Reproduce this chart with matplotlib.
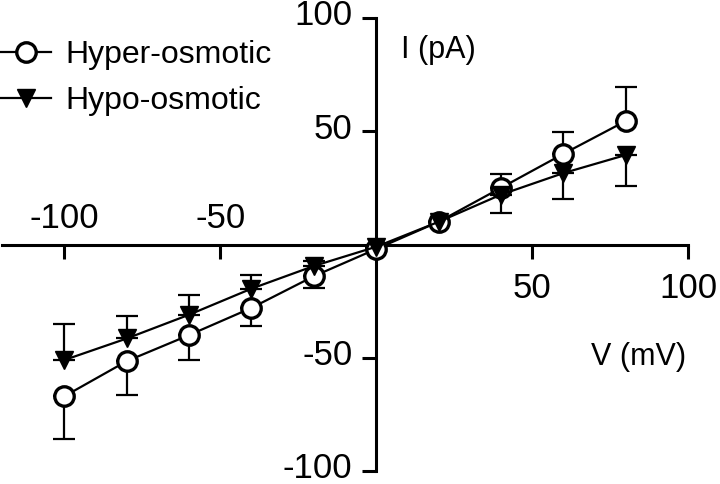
import matplotlib.pyplot as plt
import matplotlib.transforms as mtransforms

plt.rcParams['font.family'] = ['Liberation Sans', 'DejaVu Sans']

V = [-100, -80, -60, -40, -20, 0, 20, 40, 60, 80]
hyper = [-67, -51.5, -40, -28, -14, -2, 10, 25, 40, 54.5]
hyper_err = [19, 15, 11, 8, 5, 0, 0, 6, 9.5, 15]
hypo = [-51, -41.5, -31, -19.5, -9.5, -1, 10, 22, 31.5, 39.5]
hypo_err = [16, 10, 8.5, 6, 2, 0, 0, 8, 11.5, 13.5]

xticks = [-100, -50, 50, 100]
yticks = [-100, -50, 50, 100]

fig = plt.figure(figsize=(7.2, 4.84), dpi=100)
ax = fig.add_axes([2 / 720, 13 / 484, 686 / 720, 453 / 484])

# one-sided error bars: hyper goes away from zero, hypo towards zero
hyper_lo = [e if v < 0 else 0 for v, e in zip(V, hyper_err)]
hyper_hi = [e if v > 0 else 0 for v, e in zip(V, hyper_err)]
hypo_lo = [e if v > 0 else 0 for v, e in zip(V, hypo_err)]
hypo_hi = [e if v < 0 else 0 for v, e in zip(V, hypo_err)]

ax.errorbar(V, hyper, yerr=[hyper_lo, hyper_hi], fmt='none', ecolor='black',
            capsize=8, capthick=1.6, elinewidth=1.6, zorder=2)
ax.plot(V, hyper, color='black', lw=1.6, marker='o', ms=14, mfc='white',
        mec='black', mew=2.4, label='Hyper-osmotic', zorder=3)
ax.errorbar(V, hypo, yerr=[hypo_lo, hypo_hi], fmt='none', ecolor='black',
            capsize=8, capthick=1.6, elinewidth=1.6, zorder=2)
ax.plot(V, hypo, color='black', lw=1.6, marker='v', ms=13, mfc='black',
        mec='black', label='Hypo-osmotic', zorder=4)

ax.set_xlim(-120, 100)
ax.set_ylim(-100, 100)

for s in ['top', 'right']:
    ax.spines[s].set_visible(False)
ax.spines['left'].set_position(('data', 0))
ax.spines['bottom'].set_position(('data', 0))
ax.spines['left'].set_linewidth(2.2)
ax.spines['bottom'].set_linewidth(2.2)

ax.set_yticks(yticks)
ax.set_yticklabels([str(t) for t in yticks])
ax.tick_params(axis='y', direction='out', length=10, width=2.2, labelsize=25, pad=7)
# labels sit a little above their ticks in the original
up = mtransforms.ScaledTranslation(0, 4 / 72, fig.dpi_scale_trans)
for lbl in ax.get_yticklabels():
    lbl.set_transform(lbl.get_transform() + up)

ax.set_xticks(xticks)
ax.set_xticklabels([])
ax.tick_params(axis='x', direction='out', length=10, width=2.2)
for t in xticks:
    if t < 0:
        ax.text(t, 4, str(t), ha='center', va='bottom', fontsize=25)
    else:
        ax.text(t, -12, str(t), ha='center', va='top', fontsize=25)

ax.text(8, 86, 'I (pA)', ha='left', va='center', fontsize=22)
ax.text(69, -49.5, 'V (mV)', ha='left', va='center', fontsize=22)

ax.legend(loc='upper left', bbox_to_anchor=(0, 1 - 40 / 484),
          bbox_transform=fig.transFigure, frameon=False,
          fontsize=23, handlelength=1.6, handletextpad=0.45, labelspacing=0.5,
          borderaxespad=0, borderpad=0)

fig.savefig('out.png', dpi=100)
